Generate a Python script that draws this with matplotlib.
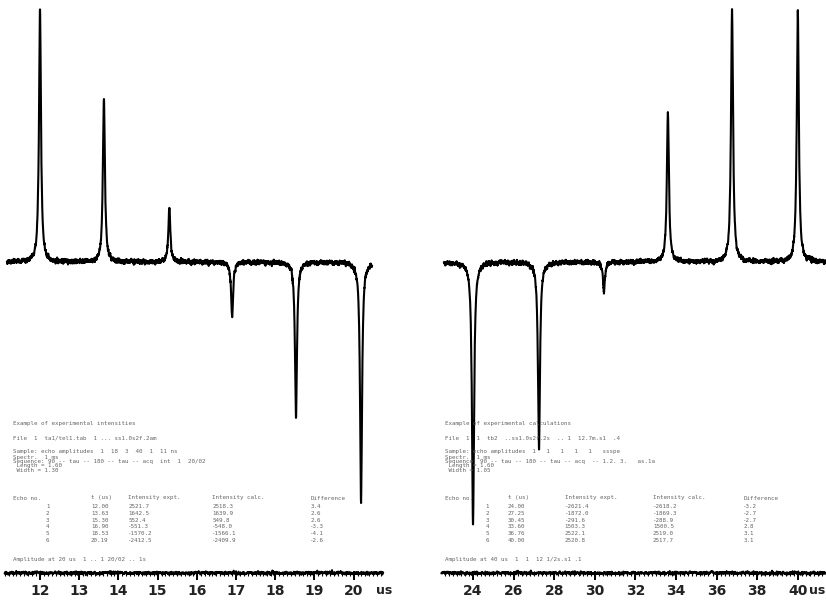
import numpy as np
import matplotlib
matplotlib.use("Agg")
import matplotlib.pyplot as plt

# Echo positions (us) and signed amplitudes (arbitrary units, baseline = 0)
left_pos = [12.0, 13.63, 15.3, 16.9, 18.53, 20.19]
left_amp = [252, 164, 55, -55, -157, -241]
right_pos = [24.0, 27.25, 30.45, 33.6, 36.76, 40.0]
right_amp = [-262, -187, -29, 150, 252, 252]

left_ticks = [12, 13, 14, 15, 16, 17, 18, 19, 20]
right_ticks = [24, 26, 28, 30, 32, 34, 36, 38, 40]

left_text = [
    "Example of experimental intensities",
    "File  1  ta1/tel1.tab  1 ... ss1.0s2f.2am",
    "Sample: echo amplitudes  1  18  3  40  1  11 ns",
    "Spectr.  1 ms",
    "Sequence: 90 -- tau -- 180 -- tau -- acq  int  1  20/02",
    " Length = 1.60",
    " Width = 1.30",
]
right_text = [
    "Example of experimental calculations",
    "File  1  1  tb2  ..ss1.0s2f.2s  .. 1  12.7m.s1  .4",
    "Sample: echo amplitudes  1   1   1   1   1   ssspe",
    "Spectr.  1 ms",
    "Sequence: 90 -- tau -- 180 -- tau -- acq  -- 1.2. 3.   as.1a",
    " Length = 1.60",
    " Width = 1.05",
]
table_head = ["Echo no.", "t (us)", "Intensity expt.", "Intensity calc.", "Difference"]
left_rows = [
    ["1", "12.00", "2521.7", "2518.3", "3.4"],
    ["2", "13.63", "1642.5", "1639.9", "2.6"],
    ["3", "15.30", "552.4", "549.8", "2.6"],
    ["4", "16.90", "-551.3", "-548.0", "-3.3"],
    ["5", "18.53", "-1570.2", "-1566.1", "-4.1"],
    ["6", "20.19", "-2412.5", "-2409.9", "-2.6"],
]
right_rows = [
    ["1", "24.00", "-2621.4", "-2618.2", "-3.2"],
    ["2", "27.25", "-1872.0", "-1869.3", "-2.7"],
    ["3", "30.45", "-291.6", "-288.9", "-2.7"],
    ["4", "33.60", "1503.3", "1500.5", "2.8"],
    ["5", "36.76", "2522.1", "2519.0", "3.1"],
    ["6", "40.00", "2520.8", "2517.7", "3.1"],
]
left_foot = "Amplitude at 20 us  1 .. 1 20/02 .. 1s"
right_foot = "Amplitude at 40 us  1  1  12 1/2s.s1 .1"

W, H = 826, 604
fig = plt.figure(figsize=(W / 100, H / 100), dpi=100)

BASE_TOP = 262          # vertical room above the baseline
AXIS_Y = -311           # level of the time-base trace
LABEL_Y = -329


def draw_panel(rect, xlim, span, axis_span, pos, amp, gamma, ticks, minor_step,
               unit_x, text, rows, foot, text_x, col_dx, num_dx, seed):
    ax = fig.add_axes(rect)
    ax.set_xlim(*xlim)
    ax.set_ylim(-(H - BASE_TOP), BASE_TOP)
    ax.axis("off")
    rng = np.random.default_rng(seed)

    # echo trace
    x = np.linspace(span[0], span[1], 6000)
    y = np.zeros_like(x)
    for p, a in zip(pos, amp):
        y += a / (1 + ((x - p) / gamma) ** 2)
    noise = rng.normal(0, 1.6, x.size)
    noise = np.convolve(noise, np.ones(6) / 6 * 1.6, mode="same")
    ax.plot(x, y + noise, color="black", lw=1.5, solid_joinstyle="round")

    # time-base trace with ticks
    xa = np.linspace(axis_span[0], axis_span[1], 3000)
    ya = AXIS_Y + np.convolve(rng.normal(0, 1.0, xa.size), np.ones(4) / 4 * 1.4, mode="same")
    ax.plot(xa, ya, color="black", lw=1.4)
    minor = np.arange(np.ceil(axis_span[0] / minor_step) * minor_step, axis_span[1], minor_step)
    ax.vlines(minor, AXIS_Y - 2.5, AXIS_Y + 2.0, color="black", lw=0.8)
    ax.vlines(ticks, AXIS_Y - 7, AXIS_Y + 2, color="black", lw=1.4)
    for t in ticks:
        ax.text(t, LABEL_Y, str(t), ha="center", va="center", fontsize=10,
                fontweight="bold", color="#222222")
    ax.text(unit_x, LABEL_Y, "us", ha="center", va="center", fontsize=9,
            fontweight="bold", color="#222222")

    # acquisition notes
    tc = "#666666"
    fs = 4.2
    fam = "DejaVu Sans Mono"
    lines_y = [-162, -176, -190, -195, -200, -204, -209]
    for s, yy in zip(text, lines_y):
        ax.text(text_x, yy, s, fontsize=fs, color=tc, va="center", ha="left", family=fam)
    hy = -236
    for j, h in enumerate(table_head):
        ax.text(text_x + col_dx[j], hy, h, fontsize=fs, color=tc, va="center", ha="left",
                family=fam)
    for i, r in enumerate(rows):
        for j, c in enumerate(r):
            xx = text_x + (num_dx if j == 0 else col_dx[j])
            ax.text(xx, hy - 9 - 6.6 * i, c, fontsize=fs, color=tc, va="center",
                    ha="left", family=fam)
    ax.text(text_x, -297, foot, fontsize=fs, color=tc, va="center", ha="left", family=fam)
    return ax


# left panel: 39.2 px per us, 12 us at x=40 px
lx0 = 12 - 40 / 39.2
lx1 = 12 + 380 / 39.2
draw_panel([0, 0, 420 / W, 1], (lx0, lx1), (11.16, 20.47), (11.1, 20.75),
           left_pos, left_amp, 0.03, left_ticks, 0.1, 20.78,
           left_text, left_rows, left_foot, 11.3,
           [0, 2.0, 2.95, 5.1, 7.6], 0.85, seed=3)

# right panel: 20.3 px per us, 24 us at x=473 px
rx0 = 24 - 53 / 20.3
rx1 = 24 + 353 / 20.3
draw_panel([420 / W, 0, 406 / W, 1], (rx0, rx1), (22.57, 41.4), (22.45, 41.4),
           right_pos, right_amp, 0.06, right_ticks, 0.2, 40.95,
           right_text, right_rows, right_foot, 22.62,
           [0, 3.1, 5.9, 10.25, 14.7], 2.0, seed=7)

fig.savefig("out.png", dpi=100, facecolor="white")
